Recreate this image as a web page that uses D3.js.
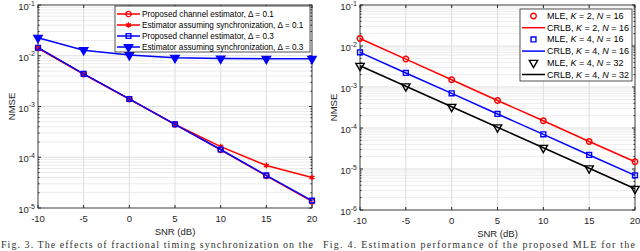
<!DOCTYPE html>
<html>
<head>
<meta charset="utf-8">
<script src="https://cdn.jsdelivr.net/npm/d3@7"></script>
<style>
  body { margin: 0; background: #fff; }
  svg { display: block; font-family: "Liberation Sans", Arial, sans-serif; }
</style>
</head>
<body>
<svg width="640" height="251"></svg>
<script>
// SNR axis values (dB)
var snr = [-10, -5, 0, 5, 10, 15, 20];
var xTicks = [-10, -5, 0, 5, 10, 15, 20];

// left panel: NMSE vs SNR, fractional timing offsets
var propD01 = [0.0142, 0.00436, 0.00140, 0.000443, 0.000140, 4.3e-5, 1.35e-5];
var syncD01 = [0.0142, 0.00436, 0.00140, 0.000443, 0.000162, 6.9e-5, 4.0e-5];
var propD03 = [0.0144, 0.00440, 0.00141, 0.000446, 0.000142, 4.4e-5, 1.40e-5];
var syncD03 = [0.0226, 0.0129, 0.0103, 0.0091, 0.0088, 0.0087, 0.0087];

// right panel: MLE points and CRLB curves
var mleK2N16 = [0.0152, 0.0048, 0.00150, 0.00047, 0.000150, 4.7e-5, 1.5e-5];
var crlbK2N16 = [0.0152, 0.0048, 0.00150, 0.00047, 0.000150, 4.7e-5, 1.5e-5];
var mleK4N16 = [0.0070, 0.0022, 0.00070, 0.00022, 7.0e-5, 2.2e-5, 7.0e-6];
var crlbK4N16 = [0.0070, 0.0022, 0.00070, 0.00022, 7.0e-5, 2.2e-5, 7.0e-6];
var mleK4N32 = [0.0033, 0.00104, 0.00033, 0.000104, 3.3e-5, 1.04e-5, 3.3e-6];
var crlbK4N32 = [0.0033, 0.00104, 0.00033, 0.000104, 3.3e-5, 1.04e-5, 3.3e-6];

// captions under the panels
var captions = [
  "Fig. 3. The effects of fractional timing synchronization on the",
  "Fig. 4. Estimation performance of the proposed MLE for the"
];

var svg = d3.select("svg");

function drawPanel(p) {
  var x = d3.scaleLinear().domain([-10, 20]).range([p.x0, p.x1]);
  var y = d3.scaleLog().domain([p.ymin, 1e-1]).range([p.y1, p.y0]);
  var g = svg.append("g");

  // minor y grid (2..9 per decade)
  var minors = [];
  for (var e = Math.log10(p.ymin); e < -1; e++) {
    for (var m = 2; m <= 9; m++) minors.push(m * Math.pow(10, e));
  }
  var majors = [];
  for (var e2 = Math.log10(p.ymin); e2 <= -1; e2++) majors.push(Math.pow(10, e2));

  g.selectAll(".minor").data(minors).enter().append("line")
      .attr("x1", p.x0).attr("x2", p.x1)
      .attr("y1", function(d) { return y(d); }).attr("y2", function(d) { return y(d); })
      .attr("stroke", "#ececec").attr("stroke-width", 1);
  g.selectAll(".majy").data(majors).enter().append("line")
      .attr("x1", p.x0).attr("x2", p.x1)
      .attr("y1", function(d) { return y(d); }).attr("y2", function(d) { return y(d); })
      .attr("stroke", "#dedede").attr("stroke-width", 1);
  g.selectAll(".majx").data(xTicks).enter().append("line")
      .attr("x1", function(d) { return x(d); }).attr("x2", function(d) { return x(d); })
      .attr("y1", p.y0).attr("y2", p.y1)
      .attr("stroke", "#dedede").attr("stroke-width", 1);

  // tick marks inward on all sides
  xTicks.forEach(function(t) {
    g.append("line").attr("x1", x(t)).attr("x2", x(t)).attr("y1", p.y1).attr("y2", p.y1 - 3).attr("stroke", "#262626");
    g.append("line").attr("x1", x(t)).attr("x2", x(t)).attr("y1", p.y0).attr("y2", p.y0 + 3).attr("stroke", "#262626");
  });
  majors.concat(minors).forEach(function(t) {
    var len = majors.indexOf(t) >= 0 ? 3 : 1.5;
    g.append("line").attr("x1", p.x0).attr("x2", p.x0 + len).attr("y1", y(t)).attr("y2", y(t)).attr("stroke", "#262626");
    g.append("line").attr("x1", p.x1).attr("x2", p.x1 - len).attr("y1", y(t)).attr("y2", y(t)).attr("stroke", "#262626");
  });

  g.append("rect").attr("x", p.x0).attr("y", p.y0)
      .attr("width", p.x1 - p.x0).attr("height", p.y1 - p.y0)
      .attr("fill", "none").attr("stroke", "#262626").attr("stroke-width", 0.8);

  // x tick labels
  g.selectAll(".xl").data(xTicks).enter().append("text")
      .attr("x", function(d) { return x(d); }).attr("y", p.y1 + 14)
      .attr("text-anchor", "middle").attr("font-size", 9.5).attr("fill", "#262626")
      .text(function(d) { return d; });

  // y tick labels 10^k
  majors.forEach(function(v) {
    var t = g.append("text").attr("x", p.x0 - 3).attr("y", y(v) + 5)
        .attr("text-anchor", "end").attr("font-size", 9.5).attr("fill", "#262626");
    t.append("tspan").text("10");
    t.append("tspan").attr("dy", -4.5).attr("font-size", 7).text(Math.round(Math.log10(v)));
  });

  // axis labels
  g.append("text").attr("x", (p.x0 + p.x1) / 2).attr("y", p.y1 + 27)
      .attr("text-anchor", "middle").attr("font-size", 9.5).attr("fill", "#262626").text("SNR (dB)");
  g.append("text").attr("transform", "translate(" + (p.x0 - 23) + "," + ((p.y0 + p.y1) / 2) + ") rotate(-90)")
      .attr("text-anchor", "middle").attr("font-size", 9.5).attr("fill", "#262626").text("NMSE");

  // series
  var line = d3.line().x(function(d, i) { return x(snr[i]); }).y(function(d) { return y(d); });
  p.series.forEach(function(s) {
    if (s.line) {
      g.append("path").datum(s.values).attr("d", line)
          .attr("fill", "none").attr("stroke", s.color).attr("stroke-width", 1.5);
    }
    if (s.marker) {
      g.selectAll(null).data(s.values).enter().append("path")
          .attr("transform", function(d, i) { return "translate(" + x(snr[i]) + "," + y(d) + ")" + (s.flip ? " rotate(180)" : ""); })
          .attr("d", d3.symbol().type(s.marker).size(s.size))
          .attr("fill", s.fill).attr("stroke", s.color).attr("stroke-width", 1.4);
    }
  });

  // legend
  var L = p.legend;
  g.append("rect").attr("x", L.x).attr("y", L.y).attr("width", L.w).attr("height", L.h)
      .attr("fill", "#fff").attr("stroke", "#262626").attr("stroke-width", 0.8);
  p.series.forEach(function(s, i) {
    var cy = L.y + L.top + i * L.step;
    if (s.line) {
      g.append("line").attr("x1", L.x + 2).attr("x2", L.x + 25).attr("y1", cy).attr("y2", cy)
          .attr("stroke", s.color).attr("stroke-width", 1.5);
    }
    if (s.marker) {
      g.append("path").attr("transform", "translate(" + (L.x + 13.5) + "," + cy + ")" + (s.flip ? " rotate(180)" : ""))
          .attr("d", d3.symbol().type(s.marker).size(s.size))
          .attr("fill", s.fill).attr("stroke", s.color).attr("stroke-width", 1.4);
    }
    var t = g.append("text").attr("x", L.x + 27).attr("y", cy + 3)
        .attr("font-size", L.fs).attr("fill", "#000");
    s.label.forEach(function(part) {
      t.append("tspan").attr("font-style", part[1] ? "italic" : "normal").text(part[0]);
    });
  });
}

drawPanel({
  x0: 38, x1: 312, y0: 5, y1: 208, ymin: 1e-5,
  legend: { x: 115, y: 6, w: 195, h: 46, top: 8, step: 11, fs: 8.2 },
  series: [
    { values: propD01, color: "#ff0000", line: true, marker: d3.symbolCircle, size: 22, fill: "none",
      label: [["Proposed channel estimator, \u0394 = 0.1"]] },
    { values: syncD01, color: "#ff0000", line: true, marker: d3.symbolAsterisk, size: 22, fill: "#ff0000",
      label: [["Estimator assuming synchronization, \u0394 = 0.1"]] },
    { values: propD03, color: "#0000ff", line: true, marker: d3.symbolSquare, size: 22, fill: "none",
      label: [["Proposed channel estimator, \u0394 = 0.3"]] },
    { values: syncD03, color: "#0000ff", line: true, marker: d3.symbolTriangle, size: 30, fill: "#0000ff", flip: true,
      label: [["Estimator assuming synchronization, \u0394 = 0.3"]] }
  ]
});

drawPanel({
  x0: 360, x1: 635, y0: 5, y1: 210, ymin: 1e-6,
  legend: { x: 520, y: 9, w: 112, h: 72, top: 7, step: 11.7, fs: 9 },
  series: [
    { values: mleK2N16, color: "#ff0000", line: false, marker: d3.symbolCircle, size: 24, fill: "none",
      label: [["MLE, "], ["K", true], [" = 2, "], ["N", true], [" = 16"]] },
    { values: crlbK2N16, color: "#ff0000", line: true,
      label: [["CRLB, "], ["K", true], [" = 2, "], ["N", true], [" = 16"]] },
    { values: mleK4N16, color: "#0000ff", line: false, marker: d3.symbolSquare, size: 24, fill: "none",
      label: [["MLE, "], ["K", true], [" = 4, "], ["N", true], [" = 16"]] },
    { values: crlbK4N16, color: "#0000ff", line: true,
      label: [["CRLB, "], ["K", true], [" = 4, "], ["N", true], [" = 16"]] },
    { values: mleK4N32, color: "#000000", line: false, marker: d3.symbolTriangle, size: 30, fill: "none", flip: true,
      label: [["MLE, "], ["K", true], [" = 4, "], ["N", true], [" = 32"]] },
    { values: crlbK4N32, color: "#000000", line: true,
      label: [["CRLB, "], ["K", true], [" = 4, "], ["N", true], [" = 32"]] }
  ]
});

// captions, squeezed to sit just above the bottom edge
svg.append("text").attr("x", 1).attr("y", 248)
    .attr("font-family", "Liberation Serif, Times New Roman, serif").attr("font-size", 10).attr("fill", "#333")
    .attr("textLength", 312).attr("lengthAdjust", "spacing")
    .text(captions[0]);
svg.append("text").attr("x", 323).attr("y", 248)
    .attr("font-family", "Liberation Serif, Times New Roman, serif").attr("font-size", 10).attr("fill", "#333")
    .attr("textLength", 312).attr("lengthAdjust", "spacing")
    .text(captions[1]);
</script>
</body>
</html>
